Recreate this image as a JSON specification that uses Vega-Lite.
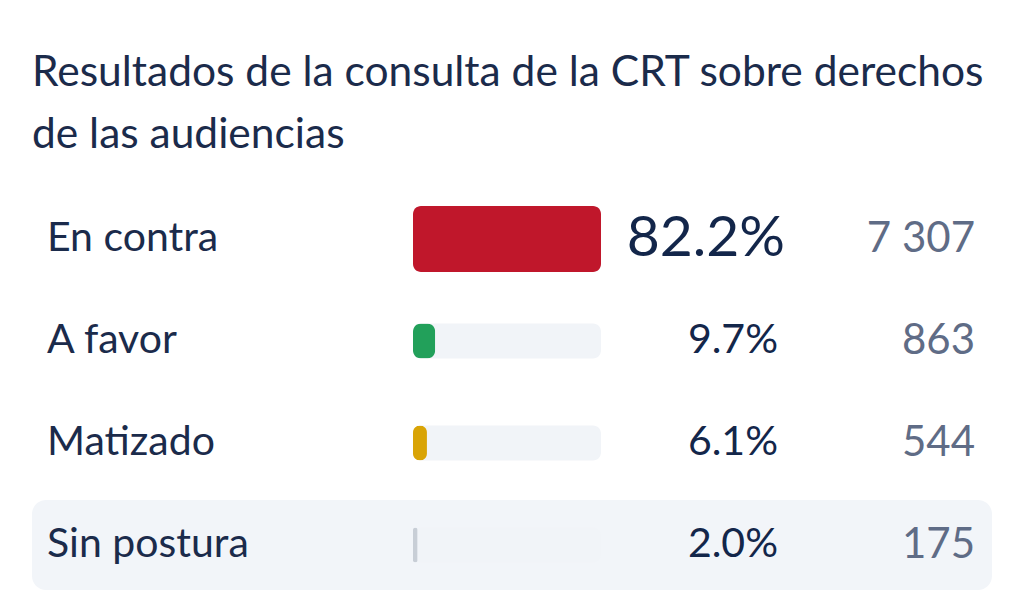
{
  "$schema": "https://vega.github.io/schema/vega-lite/v6.json",
  "autosize": "none",
  "width": 960,
  "height": 408,
  "padding": {"left": 32, "top": 188, "right": 32, "bottom": 0},
  "background": "#ffffff",
  "title": {
    "text": ["Resultados de la consulta de la CRT sobre derechos", "de las audiencias"],
    "anchor": "start",
    "frame": "group",
    "font": "Lato",
    "fontSize": 42.5,
    "fontWeight": "normal",
    "color": "#1b2b4b",
    "lineHeight": 62,
    "offset": 32
  },
  "config": {
    "view": {"stroke": null},
    "locale": {
      "number": {"decimal": ".", "thousands": " ", "grouping": [3], "currency": ["$", ""]}
    }
  },
  "data": {
    "values": [
      {"postura": "En contra", "pct": 0.822, "n": 7307},
      {"postura": "A favor", "pct": 0.097, "n": 863},
      {"postura": "Matizado", "pct": 0.061, "n": 544},
      {"postura": "Sin postura", "pct": 0.02, "n": 175}
    ]
  },
  "encoding": {
    "y": {
      "field": "postura",
      "type": "nominal",
      "sort": ["En contra", "A favor", "Matizado", "Sin postura"],
      "axis": null,
      "scale": {"paddingInner": 0, "paddingOuter": 0}
    }
  },
  "layer": [
    {
      "transform": [{"filter": "datum.postura === 'Sin postura'"}],
      "mark": {"type": "bar", "orient": "horizontal", "color": "#f2f5f9", "cornerRadius": 14},
      "encoding": {"size": {"value": 90}}
    },
    {
      "mark": {"type": "bar", "color": "#f1f4f8", "cornerRadius": 8},
      "encoding": {
        "x": {"datum": 0, "type": "quantitative", "scale": {"domain": [0, 0.822], "range": [381, 569], "nice": false, "zero": true}, "axis": null},
        "x2": {"datum": 0.822},
        "size": {"condition": {"test": "datum.postura === 'En contra'", "value": 66}, "value": 35}
      }
    },
    {
      "mark": {"type": "bar", "cornerRadius": 8},
      "encoding": {
        "x": {"field": "pct", "type": "quantitative", "axis": null},
        "color": {
          "field": "postura",
          "type": "nominal",
          "legend": null,
          "scale": {
            "domain": ["En contra", "A favor", "Matizado", "Sin postura"],
            "range": ["#c0172b", "#22a05a", "#d9a406", "#c8ced6"]
          }
        },
        "size": {"condition": {"test": "datum.postura === 'En contra'", "value": 66}, "value": 35}
      }
    },
    {
      "mark": {"type": "text", "align": "left", "baseline": "middle", "font": "Lato", "fontSize": 41, "color": "#1b2b4b"},
      "encoding": {
        "x": {"value": 15},
        "text": {"field": "postura"}
      }
    },
    {
      "transform": [{"filter": "datum.postura === 'En contra'"}],
      "mark": {"type": "text", "align": "right", "baseline": "middle", "font": "Lato", "fontSize": 57, "color": "#13264a"},
      "encoding": {
        "x": {"value": 753},
        "text": {"field": "pct", "format": ".1%"}
      }
    },
    {
      "transform": [{"filter": "datum.postura !== 'En contra'"}],
      "mark": {"type": "text", "align": "right", "baseline": "middle", "font": "Lato", "fontSize": 41, "color": "#13264a"},
      "encoding": {
        "x": {"value": 746},
        "text": {"field": "pct", "format": ".1%"}
      }
    },
    {
      "mark": {"type": "text", "align": "right", "baseline": "middle", "font": "Lato", "fontSize": 42, "color": "#5f6c86"},
      "encoding": {
        "x": {"value": 943},
        "text": {"field": "n", "format": ",d"}
      }
    }
  ]
}
